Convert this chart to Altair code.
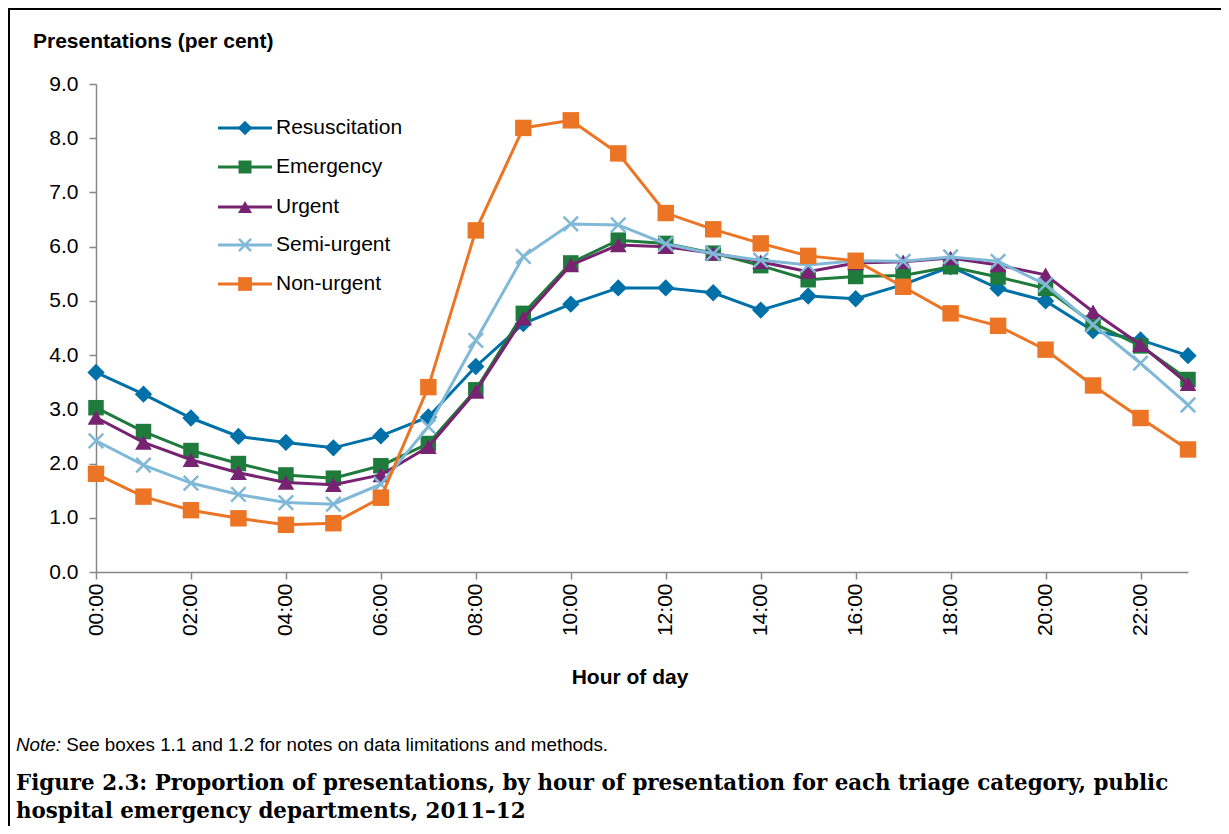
import altair as alt
import pandas as pd

hours = list(range(24))
series_names = ["Resuscitation", "Emergency", "Urgent", "Semi-urgent", "Non-urgent"]
resus = [3.68, 3.28, 2.84, 2.50, 2.39, 2.29, 2.51, 2.86, 3.79, 4.58, 4.94, 5.24,
         5.24, 5.15, 4.83, 5.09, 5.04, 5.30, 5.63, 5.23, 5.00, 4.45, 4.28, 3.99]
emerg = [3.03, 2.59, 2.24, 2.00, 1.79, 1.73, 1.96, 2.37, 3.36, 4.77, 5.70, 6.12,
         6.06, 5.88, 5.65, 5.39, 5.45, 5.47, 5.63, 5.44, 5.23, 4.59, 4.17, 3.55]
urgent = [2.85, 2.39, 2.07, 1.83, 1.65, 1.61, 1.79, 2.31, 3.33, 4.68, 5.66, 6.03,
          6.00, 5.88, 5.72, 5.54, 5.70, 5.72, 5.79, 5.66, 5.48, 4.80, 4.19, 3.47]
semi = [2.42, 1.97, 1.64, 1.43, 1.28, 1.25, 1.62, 2.68, 4.27, 5.82, 6.42, 6.40,
        6.05, 5.87, 5.75, 5.66, 5.74, 5.73, 5.81, 5.73, 5.30, 4.56, 3.85, 3.08]
nonurg = [1.81, 1.39, 1.14, 0.99, 0.87, 0.90, 1.37, 3.41, 6.30, 8.19, 8.33, 7.72,
          6.62, 6.32, 6.06, 5.83, 5.74, 5.26, 4.77, 4.54, 4.10, 3.44, 2.84, 2.26]
y_ticks = [0, 1, 2, 3, 4, 5, 6, 7, 8, 9]
x_ticks = [0, 2, 4, 6, 8, 10, 12, 14, 16, 18, 20, 22]

values = [resus, emerg, urgent, semi, nonurg]
colors = ["#0070a8", "#1e7b3c", "#782372", "#80b8d8", "#eb7525"]
XPATH = "M-1,-1L1,1M-1,1L1,-1"
shapes = ["diamond", "square", "triangle-up", XPATH, "square"]
sizes = [300, 240, 280, 210, 270]

rows = []
for name, vals in zip(series_names, values):
    for h, v in zip(hours, vals):
        rows.append({"series": name, "hour": h, "value": v})
df = pd.DataFrame(rows)

FONT = "Liberation Sans"
W, H = 1092, 488
PL, PT, PR, PB = 88, 76, 33, 254

x_enc = alt.X("hour:Q",
              scale=alt.Scale(domain=[0, 23], nice=False, zero=False),
              axis=alt.Axis(values=x_ticks, labelAngle=-90, title=None,
                            labelExpr="(datum.value < 10 ? '0' : '') + datum.value + ':00'",
                            tickSize=7, labelPadding=4, labelFontSize=21,
                            labelFont=FONT, labelColor="black",
                            domainColor="#868686", tickColor="#868686",
                            domainWidth=1.5, tickWidth=1.5, grid=False))
y_enc = alt.Y("value:Q",
              scale=alt.Scale(domain=[0, 9], nice=False),
              axis=alt.Axis(values=y_ticks, format=".1f", title=None,
                            tickSize=7, labelPadding=11, labelFontSize=21,
                            labelFont=FONT, labelColor="black",
                            domainColor="#868686", tickColor="#868686",
                            domainWidth=1.5, tickWidth=1.5, grid=False))

base = alt.Chart(df)
layers = []
for name, col, shp, sz in zip(series_names, colors, shapes, sizes):
    sub = base.transform_filter(alt.datum.series == name)
    layers.append(sub.mark_line(color=col, strokeWidth=3).encode(x=x_enc, y=y_enc))
    if shp == XPATH:
        pt = sub.mark_point(shape=shp, filled=False, color=col, strokeWidth=2.5,
                            size=sz, opacity=1)
    else:
        pt = sub.mark_point(shape=shp, filled=True, color=col, size=sz, opacity=1)
    layers.append(pt.encode(x=x_enc, y=y_enc))

# legend
leg_y = [44, 83, 123, 161, 200]
for name, col, shp, sz, ly in zip(series_names, colors, shapes, sizes, leg_y):
    ld = alt.Chart(pd.DataFrame({"label": [name]}))
    layers.append(ld.mark_rule(color=col, strokeWidth=3).encode(
        x=alt.value(122), x2=alt.value(176), y=alt.value(ly)))
    if shp == XPATH:
        lp = ld.mark_point(shape=shp, filled=False, color=col, strokeWidth=2.5,
                           size=sz * 0.7, opacity=1)
    else:
        lp = ld.mark_point(shape=shp, filled=True, color=col, size=sz * 0.7, opacity=1)
    layers.append(lp.encode(x=alt.value(149), y=alt.value(ly)))
    layers.append(ld.mark_text(align="left", baseline="middle", font=FONT,
                               fontSize=21, color="black").encode(
        x=alt.value(180), y=alt.value(ly), text="label:N"))

# texts
txt = alt.Chart(pd.DataFrame({"t": ["Presentations (per cent)"]}))
layers.append(txt.mark_text(align="left", baseline="middle", font=FONT, fontSize=21,
                            fontWeight="bold", color="black").encode(
    x=alt.value(-63), y=alt.value(-42), text="t:N"))
xt = alt.Chart(pd.DataFrame({"t": ["Hour of day"]}))
layers.append(xt.mark_text(align="center", baseline="middle", font=FONT, fontSize=21,
                           fontWeight="bold", color="black").encode(
    x=alt.value(534), y=alt.value(594), text="t:N"))
n1 = alt.Chart(pd.DataFrame({"t": ["Note:"]}))
layers.append(n1.mark_text(align="left", baseline="alphabetic", font=FONT, fontSize=18.8,
                           fontStyle="italic", color="black").encode(
    x=alt.value(-80), y=alt.value(667), text="t:N"))
n2 = alt.Chart(pd.DataFrame({"t": ["See boxes 1.1 and 1.2 for notes on data limitations and methods."]}))
layers.append(n2.mark_text(align="left", baseline="alphabetic", font=FONT, fontSize=18.8,
                           color="black").encode(
    x=alt.value(-29.8), y=alt.value(667), text="t:N"))
cap1 = alt.Chart(pd.DataFrame({"t": ["Figure 2.3: Proportion of presentations, by hour of presentation for each triage category, public"]}))
layers.append(cap1.mark_text(align="left", baseline="alphabetic", font="DejaVu Serif",
                             fontSize=21.4, fontWeight="bold", color="black").encode(
    x=alt.value(-80), y=alt.value(706), text="t:N"))
cap2 = alt.Chart(pd.DataFrame({"t": ["hospital emergency departments, 2011\u201312"]}))
layers.append(cap2.mark_text(align="left", baseline="alphabetic", font="DejaVu Serif",
                             fontSize=21.4, fontWeight="bold", color="black").encode(
    x=alt.value(-80), y=alt.value(734), text="t:N"))

# frame
fr = alt.Chart(pd.DataFrame({"k": [1]}))
layers.append(fr.mark_rule(color="black", strokeWidth=2).encode(
    x=alt.value(-87), y=alt.value(-75), y2=alt.value(H + PB)))
layers.append(fr.mark_rule(color="black", strokeWidth=2).encode(
    x=alt.value(-88), x2=alt.value(W + PR), y=alt.value(-75)))

chart = alt.layer(*layers).properties(
    width=W, height=H,
    padding={"left": PL, "top": PT, "right": PR, "bottom": PB},
    autosize=alt.AutoSizeParams(type="none"),
    background="white",
).configure_view(stroke=None)

chart.save("out.html", embed_options={"renderer": "svg", "actions": False})
